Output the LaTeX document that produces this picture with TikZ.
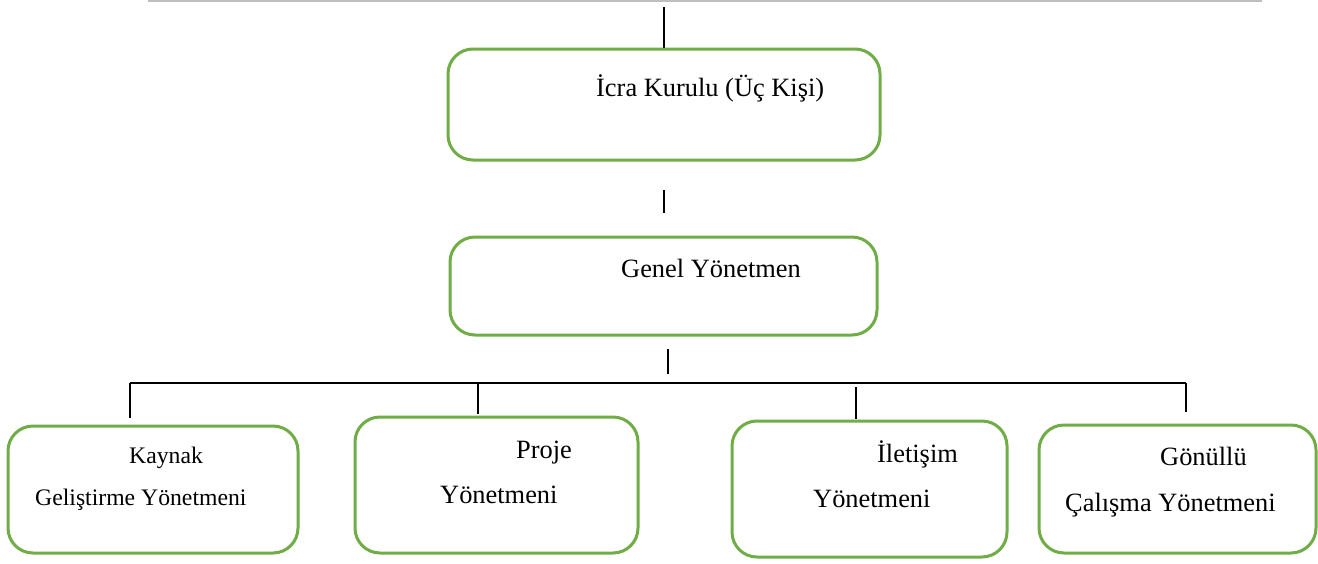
\documentclass[tikz,border=0pt]{standalone}
\usepackage{fontspec}
\setmainfont{Liberation Serif}
\definecolor{boxgreen}{HTML}{70AD47}
\definecolor{topgray}{HTML}{BFBFBF}
\begin{document}
\begin{tikzpicture}[x=1pt,y=-1pt,
  box/.style={draw=boxgreen, line width=3pt, rounded corners=25pt, rectangle, inner sep=0pt},
  conn/.style={draw=black, line width=1.3pt},
  lbl/.style={anchor=base west, inner sep=0pt, text=black},
  big/.style={font=\fontsize{26.4}{30}\selectfont},
  small/.style={font=\fontsize{23.7}{28}\selectfont}]
\useasboundingbox (0,0) rectangle (1318,563);
\fill[white] (0,0) rectangle (1318,563);
% top gray rule
\coordinate (g0) at (148,1);
\coordinate (g1) at (1262,1);
\draw[topgray, line width=1.6pt] (g0) -- (g1);

% boxes
\node[box, minimum width=432pt, minimum height=111pt] (b1) at (664,104.5) {};
\node[box, minimum width=427pt, minimum height=98pt] (b2) at (663.5,286) {};
\node[box, minimum width=290pt, minimum height=127pt] (ba) at (153,489.5) {};
\node[box, minimum width=283pt, minimum height=136pt] (bb) at (496.5,485) {};
\node[box, minimum width=275pt, minimum height=136pt] (bc) at (869.5,489) {};
\node[box, minimum width=277pt, minimum height=128pt] (bd) at (1177.5,489) {};

% labels
\node[lbl, big] (t1) at (596,96) {İcra Kurulu (Üç Kişi)};
\node[lbl, big] (t2) at (621,277) {Genel Yönetmen};
\node[lbl, small] (ta1) at (129,463) {Kaynak};
\node[lbl, small] (ta2) at (35,505) {Geliştirme Yönetmeni};
\node[lbl, big] (tb1) at (516,458) {Proje};
\node[lbl, big] (tb2) at (440,503) {Yönetmeni};
\node[lbl, big] (tc1) at (877,462) {İletişim};
\node[lbl, big] (tc2) at (813,507) {Yönetmeni};
\node[lbl, big] (td1) at (1160,465) {Gönüllü};
\node[lbl, big] (td2) at (1065,511) {Çalışma Yönetmeni};

% connectors
\coordinate (c0) at (664,7);
\draw[conn] (c0) -- (b1.north);
\coordinate (m1a) at (664,190);
\coordinate (m1b) at (664,213);
\draw[conn] (m1a) -- (m1b);
\coordinate (m2a) at (668,349);
\coordinate (m2b) at (668,374);
\draw[conn] (m2a) -- (m2b);
\coordinate (hL) at (130,383);
\coordinate (hB) at (478,383);
\coordinate (hC) at (856,383);
\coordinate (hR) at (1186,383);
\draw[conn] (hL) -- (hR);
\coordinate (va) at (130,418);
\coordinate (vb) at (478,414);
\coordinate (vc0) at (856,387);
\coordinate (vc) at (856,419);
\coordinate (vd) at (1186,412);
\draw[conn] (hL) -- (va);
\draw[conn] (hB) -- (vb);
\draw[conn] (vc0) -- (vc);
\draw[conn] (hR) -- (vd);
\end{tikzpicture}
\end{document}
